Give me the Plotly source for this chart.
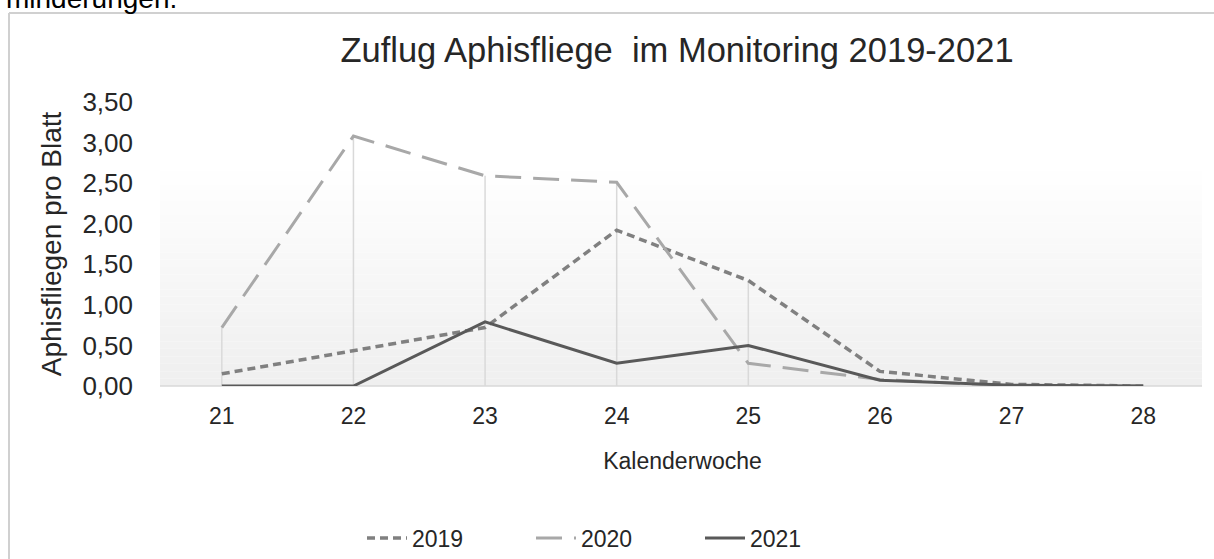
import plotly.graph_objs as go

# Kalenderwochen und Aphisfliegen pro Blatt
weeks = ['21', '22', '23', '24', '25', '26', '27', '28']
y2019 = [0.15, 0.43, 0.72, 1.92, 1.30, 0.18, 0.02, 0.00]
y2020 = [0.72, 3.08, 2.59, 2.51, 0.28, 0.08, 0.00, 0.00]
y2021 = [0.00, 0.00, 0.79, 0.28, 0.50, 0.07, 0.01, 0.00]

# plot area in pixels (for placing paper-referenced decorations)
W, H = 1214, 559
L, R, T, B = 156, 5, 102, 173
pw, ph = W - L - R, H - T - B


def px(x):
    return (x - L) / pw


def py(y):
    return (H - B - y) / ph


fig = go.Figure()

# drop lines from the highest value at each week
drop_x, drop_y = [], []
for w, a, b, c in zip(weeks, y2019, y2020, y2021):
    if max(a, b, c) > 0.5:
        drop_x += [w, w, None]
        drop_y += [0, max(a, b, c), None]
fig.add_trace(go.Scatter(x=drop_x, y=drop_y, mode='lines', showlegend=False,
                         line=dict(color='#d9d9d9', width=1.5), hoverinfo='skip'))

fig.add_trace(go.Scatter(x=weeks, y=y2019, name='2019', mode='lines',
                         line=dict(color='#808080', width=3.5, dash='8px,5px')))
fig.add_trace(go.Scatter(x=weeks, y=y2020, name='2020', mode='lines',
                         line=dict(color='#a8a8a8', width=3, dash='26px,12px')))
fig.add_trace(go.Scatter(x=weeks, y=y2021, name='2021', mode='lines',
                         line=dict(color='#595959', width=3)))

# gradient background of the plot area
shapes = []
n = 30
top = py(163)
for i in range(n):
    t = i / (n - 1)
    g = int(round(0xef + (0xff - 0xef) * t))
    shapes.append(dict(type='rect', xref='paper', yref='paper', layer='below',
                       x0=px(160), x1=px(1202), y0=top * i / n, y1=top * (i + 1) / n,
                       fillcolor='rgb(%d,%d,%d)' % (g, g, g), line=dict(width=0)))
shapes.append(dict(type='line', xref='paper', yref='paper', layer='below',
                   x0=px(160), x1=px(1202), y0=0, y1=0, line=dict(color='#d9d9d9', width=1.5)))
# outer chart border
shapes.append(dict(type='line', xref='paper', yref='paper', x0=px(9), x1=px(9),
                   y0=py(13), y1=py(H + 5), line=dict(color='#d0d0d0', width=2)))
shapes.append(dict(type='line', xref='paper', yref='paper', x0=px(9), x1=px(W + 5),
                   y0=py(13), y1=py(13), line=dict(color='#d0d0d0', width=2)))

font = 'Liberation Sans, Arial, sans-serif'
fig.update_layout(
    width=W, height=H,
    margin=dict(l=L, r=R, t=T, b=B, autoexpand=False),
    paper_bgcolor='white', plot_bgcolor='rgba(0,0,0,0)',
    separators=',.',
    font=dict(family=font, size=22, color='#262626'),
    title=dict(text='Zuflug Aphisfliege  im Monitoring 2019-2021', x=677 / W,
               xanchor='center', y=1 - 50 / H, yanchor='middle',
               font=dict(size=34.5, color='#262626')),
    xaxis=dict(type='category', range=[-0.5, 7.5], showgrid=False, zeroline=False,
               showline=False, ticks='', ticklabelstandoff=14, tickfont=dict(size=23),
               title=dict(text='Kalenderwoche', standoff=24, font=dict(size=23))),
    yaxis=dict(range=[0, 3.5], dtick=0.5, tickformat='.2f', showgrid=False,
               zeroline=False, showline=False, ticks='', ticklabelstandoff=22,
               tickfont=dict(size=26),
               title=dict(text='Aphisfliegen pro Blatt', standoff=12, font=dict(size=28))),
    legend=dict(orientation='h', x=px(362), xanchor='left', y=py(538), yanchor='middle',
                entrywidth=114, entrywidthmode='pixels', itemwidth=40,
                font=dict(size=23), bgcolor='rgba(0,0,0,0)'),
    shapes=shapes,
    annotations=[dict(text='minderungen.', xref='paper', yref='paper', x=px(4), y=py(16),
                      xanchor='left', yanchor='bottom', showarrow=False,
                      font=dict(size=28, color='black', family=font))],
)

fig.write_html('out.html', config={'displayModeBar': False},
               post_script="document.body.style.margin='0';")
